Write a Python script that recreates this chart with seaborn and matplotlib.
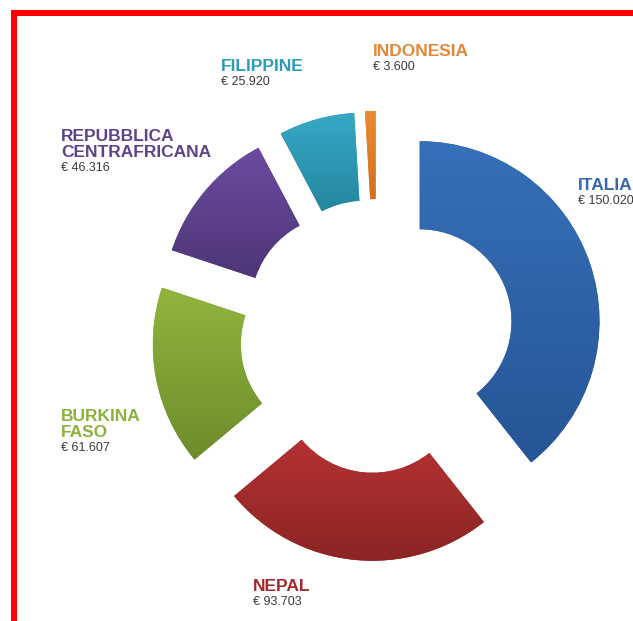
import numpy as np
import matplotlib
matplotlib.use("Agg")
import matplotlib.pyplot as plt
import seaborn as sns
from matplotlib.colors import LinearSegmentedColormap
from matplotlib.patches import Rectangle

# ---------------- data ----------------
countries = ["ITALIA", "NEPAL", "BURKINA\nFASO", "REPUBBLICA\nCENTRAFRICANA", "FILIPPINE", "INDONESIA"]
values = [150020, 93703, 61607, 46316, 25920, 3600]
value_labels = ["€ 150.020", "€ 93.703", "€ 61.607", "€ 46.316", "€ 25.920", "€ 3.600"]

# ---------------- style ----------------
sns.set_theme(style="white")
plt.rcParams["font.family"] = ["Liberation Sans", "DejaVu Sans"]

base_colors = ["#2F63AA", "#A52B2C", "#7FA437", "#5D3F8E", "#2D9AB7", "#E27C2A"]
light_colors = ["#3670B8", "#B43233", "#90B63E", "#6B4CA1", "#36A9C7", "#EC8A30"]
dark_colors = ["#265596", "#8C2424", "#6C8C2B", "#4E3576", "#25869F", "#D27023"]
label_colors = ["#3567B0", "#A3282D", "#8AB13C", "#5B4489", "#2D9CB8", "#E2883A"]

W, H = 633, 621
fig = plt.figure(figsize=(W / 100, H / 100), dpi=100)
ax = fig.add_axes([0, 0, 1, 1])

palette = sns.color_palette(base_colors)
wedges, _ = ax.pie(
    values,
    colors=palette,
    startangle=90,
    counterclock=False,
    radius=180,
    center=(377, H - 336),
    explode=[45] * len(values),
    wedgeprops=dict(width=88, edgecolor="none", linewidth=0),
)

# vertical gradient fill clipped to each wedge
grad = np.linspace(0, 1, 256).reshape(-1, 1)
for w, lc, dc in zip(wedges, light_colors, dark_colors):
    ext = w.get_path().get_extents()
    cmap = LinearSegmentedColormap.from_list("g", [lc, dc])
    im = ax.imshow(grad, cmap=cmap, extent=[ext.x0, ext.x1, ext.y0, ext.y1],
                   origin="upper", aspect="auto", zorder=w.get_zorder() + 0.1,
                   interpolation="bilinear")
    im.set_clip_path(w)

ax.set_autoscale_on(False)
ax.set_xlim(0, W)
ax.set_ylim(0, H)
ax.set_aspect("auto")
ax.axis("off")

# labels: (x, first-line baseline y in pixel coords from top)
label_pos = [(578, 190), (253, 591), (61, 421), (61, 141), (221, 71), (373, 56)]
line_step = 16
for name, val, col, (lx, ly) in zip(countries, value_labels, label_colors, label_pos):
    lines = name.split("\n")
    for i, line in enumerate(lines):
        ax.text(lx, H - (ly + i * line_step), line,
                fontsize=12.5, fontweight="bold", color=col, va="baseline", ha="left")
    vy = ly + (len(lines) - 1) * line_step + 14
    ax.text(lx, H - vy, val, fontsize=9, color="#3a3a3a", va="baseline", ha="left")

# red frame
ax.add_patch(Rectangle((14, -30), 700, H - 13 + 30, fill=False, edgecolor="#FF0000",
                       linewidth=6 * 72 / 100, zorder=10))

fig.savefig("out.png", dpi=100, facecolor="white")
